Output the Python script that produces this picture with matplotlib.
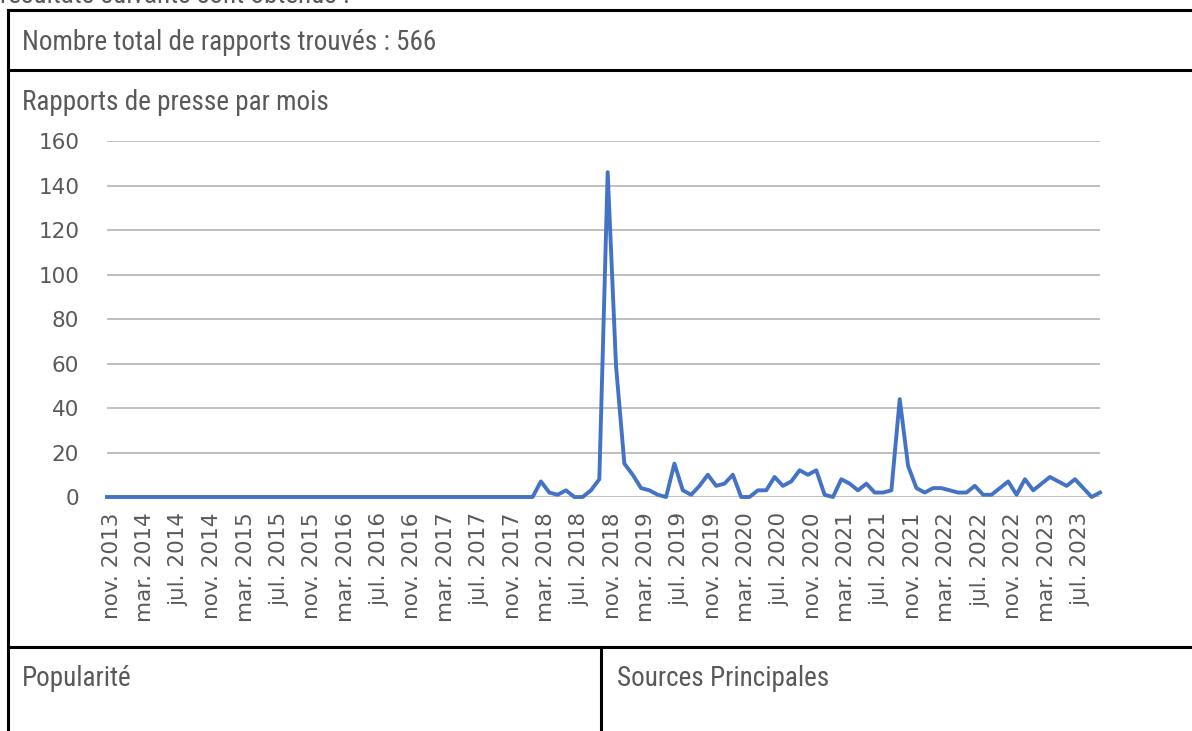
import matplotlib.pyplot as plt
import matplotlib.transforms as mtransforms
from matplotlib.lines import Line2D

# -------------------------------
# Monthly press reports, nov. 2013 -> oct. 2023
# -------------------------------
counts = [
    0, 0, 0, 0, 0, 0, 0, 0, 0, 0,
    0, 0, 0, 0, 0, 0, 0, 0, 0, 0,
    0, 0, 0, 0, 0, 0, 0, 0, 0, 0,
    0, 0, 0, 0, 0, 0, 0, 0, 0, 0,
    0, 0, 0, 0, 0, 0, 0, 0, 0, 0,
    0, 0, 7, 2, 1, 3, 0, 0, 3, 8,
    146, 59, 15, 10, 4, 3, 1, 0, 15, 3,
    1, 5, 10, 5, 6, 10, 0, 0, 3, 3,
    9, 5, 7, 12, 10, 12, 1, 0, 8, 6,
    3, 6, 2, 2, 3, 44, 14, 4, 2, 4,
    4, 3, 2, 2, 5, 1, 1, 4, 7, 1,
    8, 3, 6, 9, 7, 5, 8, 4, 0, 2,
]

tick_labels = [
    "nov. 2013", "mar. 2014", "jul. 2014", "nov. 2014", "mar. 2015", "jul. 2015",
    "nov. 2015", "mar. 2016", "jul. 2016", "nov. 2016", "mar. 2017", "jul. 2017",
    "nov. 2017", "mar. 2018", "jul. 2018", "nov. 2018", "mar. 2019", "jul. 2019",
    "nov. 2019", "mar. 2020", "jul. 2020", "nov. 2020", "mar. 2021", "jul. 2021",
    "nov. 2021", "mar. 2022", "jul. 2022", "nov. 2022", "mar. 2023", "jul. 2023",
]

total_text = "Nombre total de rapports trouvés : 566"
chart_title = "Rapports de presse par mois"
cell_left = "Popularité"
cell_right = "Sources Principales"
top_text = "résultats suivants sont obtenus :"

W, H = 1192, 731
TEXT_FONT = ["Liberation Sans Narrow", "Roboto Condensed", "Liberation Sans", "DejaVu Sans"]
GREY = "#595959"


def fx(x):
    return x / W


def fy(y):
    return 1 - y / H


fig = plt.figure(figsize=(W / 100, H / 100), dpi=100)

# -------------------------------
# Line chart
# -------------------------------
ax = fig.add_axes([fx(107), fy(497), fx(1100 - 107), (497 - 141) / H])
ax.plot(range(len(counts)), counts, color="#4472C4", lw=2.8,
        solid_joinstyle="round", clip_on=False, zorder=3)
ax.set_xlim(0, len(counts) - 1)
ax.set_ylim(0, 160)
ax.set_yticks(range(0, 161, 20))
ax.set_xticks(range(0, len(counts), 4))
ax.set_xticklabels(tick_labels, rotation=90, va="top", ha="center")
ax.yaxis.grid(True, color="#bfbfbf", lw=1.4)
ax.set_axisbelow(True)
for s in ax.spines.values():
    s.set_visible(False)
ax.tick_params(length=0, labelsize=15.5, labelcolor=GREY)
ax.tick_params(axis="y", pad=20)
ax.tick_params(axis="x", pad=11)

# labels sit a few pixels right of their category, as in the original
shift = mtransforms.ScaledTranslation(5 / 100, 0, fig.dpi_scale_trans)
for lab in ax.get_xticklabels():
    lab.set_transform(lab.get_transform() + shift)

# -------------------------------
# Table frame and cell texts
# -------------------------------
lw = 2.2
frame = [
    ((8, 8), (10, H)),
    ((8, W), (10, 10)),
    ((8, W), (70, 70)),
    ((8, W), (647, 647)),
    ((601, 601), (647, H)),
]
for xs, ys in frame:
    fig.add_artist(Line2D([fx(v) for v in xs], [fy(v) for v in ys],
                          color="black", lw=lw, solid_capstyle="projecting"))

txt = dict(fontsize=19.5, color=GREY, family=TEXT_FONT,
           va="center", ha="left")
fig.text(fx(0), fy(3), top_text, **{**txt, "va": "baseline"})
fig.text(fx(22), fy(43), total_text, **txt)
fig.text(fx(22), fy(103), chart_title, **txt)
fig.text(fx(22), fy(678), cell_left, **txt)
fig.text(fx(617), fy(678), cell_right, **txt)

fig.savefig("out.png", dpi=100)
